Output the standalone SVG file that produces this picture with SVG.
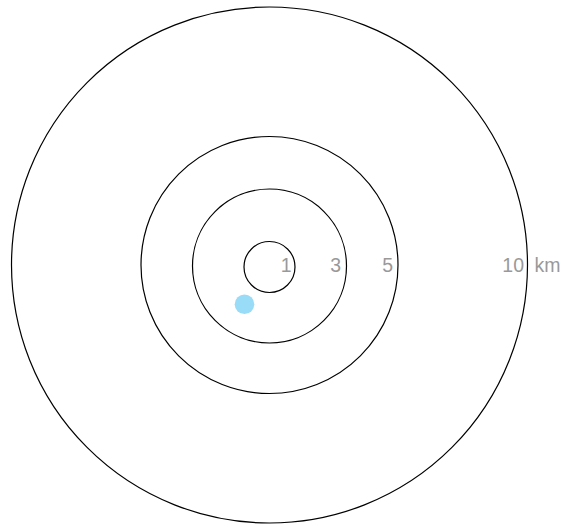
<svg xmlns="http://www.w3.org/2000/svg" width="567" height="524" viewBox="0 0 567 524">
<style>
.ring{fill:none;stroke:#000;stroke-width:1.2}
.lbl{font-family:"Liberation Sans",Arial,sans-serif;font-size:19.5px;fill:#999}
</style>
<rect width="567" height="524" fill="#fff"/>
<g id="rings">
<circle id="r10" class="ring" cx="269.5" cy="265" r="258"/>
<circle id="r5" class="ring" cx="269.5" cy="265" r="128.5"/>
<circle id="r3" class="ring" cx="269.5" cy="266" r="77"/>
<circle id="r1" class="ring" cx="269.5" cy="267" r="25.5"/>
</g>
<g id="labels">
<text class="lbl" x="291.5" y="271.7" text-anchor="end">1</text>
<text class="lbl" x="341" y="271.7" text-anchor="end">3</text>
<text class="lbl" x="393" y="271.7" text-anchor="end">5</text>
<text class="lbl" x="524" y="271.7" text-anchor="end">10</text>
<text class="lbl" x="534.5" y="271.7">km</text>
</g>
<g id="point">
<circle cx="244.5" cy="304.3" r="9.8" fill="#99dcf8"/>
</g>
</svg>
